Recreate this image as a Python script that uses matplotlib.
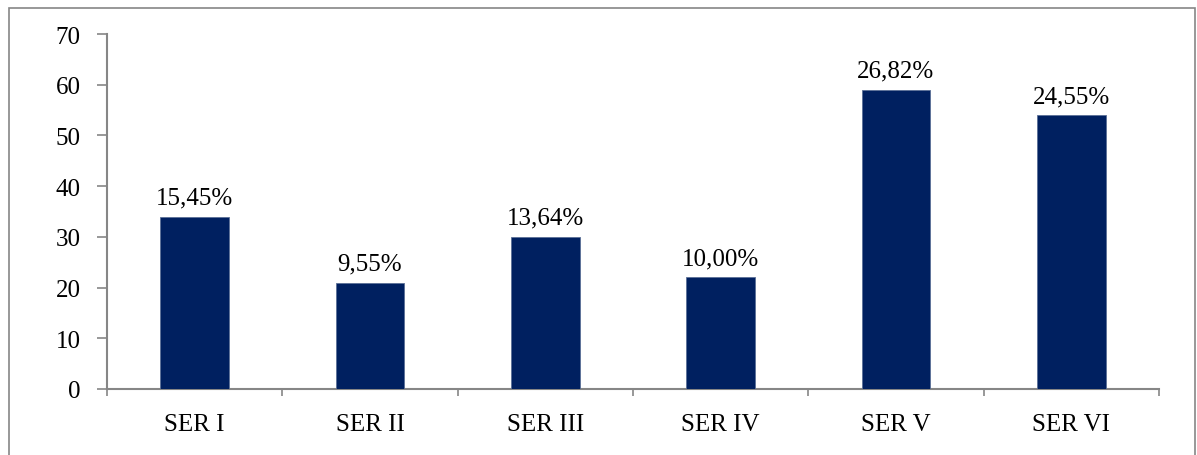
import matplotlib
matplotlib.use("Agg")
import matplotlib.pyplot as plt
from matplotlib.patches import Rectangle
from matplotlib.ticker import FixedLocator

categories = ["SER I", "SER II", "SER III", "SER IV", "SER V", "SER VI"]
values = [34, 21, 30, 22, 59, 54]
labels = ["15,45%", "9,55%", "13,64%", "10,00%", "26,82%", "24,55%"]

plt.rcParams['font.family'] = ['Liberation Serif', 'DejaVu Serif']

fig = plt.figure(figsize=(11.97, 4.56), dpi=100)
fig.patches.append(Rectangle((9/1197, -0.01), (1195-9)/1197, 1 - 9/456 + 0.01,
                             transform=fig.transFigure, fill=False,
                             edgecolor='#868686', linewidth=1.2))
ax = fig.add_axes([107/1197, 1-390/456, (1159-107)/1197, (390-35)/456])

x = list(range(len(categories)))
ax.bar(x, values, width=0.39, color='#002060', edgecolor='#5a6f96', linewidth=0.6, zorder=3)
for xi, v, lab in zip(x, values, labels):
    ax.text(xi, v + 1.6, lab, ha='center', va='bottom', fontsize=18, color='black')

ax.set_xlim(-0.5, len(categories) - 0.5)
ax.set_ylim(0, 70)
ax.set_yticks(range(0, 71, 10))
ax.set_xticks(x)
ax.set_xticklabels(categories, fontsize=18)
ax.xaxis.set_minor_locator(FixedLocator([i - 0.5 for i in range(len(categories) + 1)]))
ax.tick_params(axis='x', which='major', length=0, pad=17)
ax.tick_params(axis='x', which='minor', length=5, direction='out', color='#868686', width=1.2)
ax.tick_params(axis='y', length=7, direction='out', color='#868686', width=1.2, labelsize=18, pad=12)

for s in ['top', 'right']:
    ax.spines[s].set_visible(False)
for s in ['left', 'bottom']:
    ax.spines[s].set_color('#868686')
    ax.spines[s].set_linewidth(1.5)

fig.savefig('out.png', dpi=100)
